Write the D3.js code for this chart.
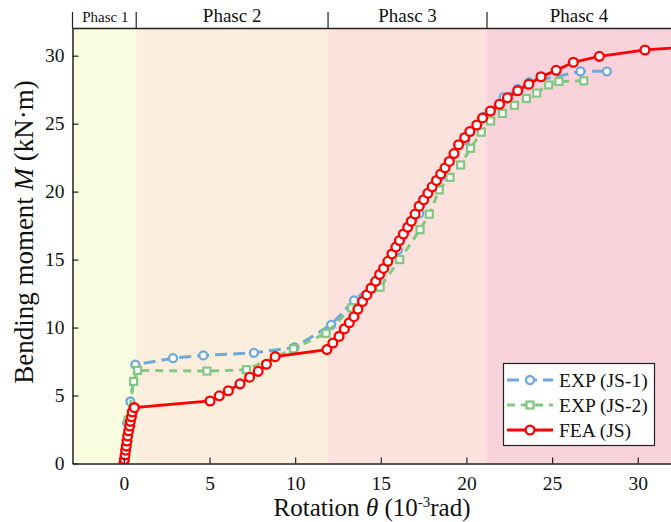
<!DOCTYPE html>
<html lang="en">
<head>
<meta charset="utf-8">
<title>moment rotation</title>
<script src="https://d3js.org/d3.v7.min.js"></script>
<style>
  body{margin:0;background:#fff;font-family:"Liberation Serif","Times New Roman",serif;}
</style>
</head>
<body>
<div id="chart"></div>
<script>
// phases
var phaseNames = ["Phasc 1","Phasc 2","Phasc 3","Phasc 4"]
var phaseEdges = [-3, 0.72, 11.92, 21.2, 32]
var phaseColors = ["#fbfde0","#fbeedc","#fce1dd","#fad2dc"]

// EXP (JS-1)
var exp1Theta = [0, 0.19, 0.38, 0.67, 2.87, 4.64, 7.59, 9.96, 12.1, 13.44, 14.76, 16.0, 17.25, 18.5, 19.92, 21.0, 22.18, 22.99, 23.66, 26.66, 28.2]
var exp1M     = [0, 3.0, 4.56, 7.27, 7.75, 7.95, 8.14, 8.54, 10.2, 12.0, 13.4, 15.7, 18.4, 21.1, 23.77, 25.5, 26.95, 27.55, 28.05, 28.85, 28.85]

// EXP (JS-2)
var exp2Theta = [0, 0.25, 0.57, 0.8, 4.85, 7.15, 9.9, 11.8, 13.3, 14.96, 16.1, 17.29, 17.83, 18.41, 19.04, 19.66, 20.24, 20.87, 21.41, 22.1, 22.8, 23.5, 24.1, 24.8, 25.4, 26.85]
var exp2M     = [0, 3.2, 6.04, 6.85, 6.8, 6.9, 8.44, 9.58, 11.45, 12.97, 15.0, 17.2, 18.34, 20.13, 21.05, 21.96, 23.19, 24.37, 25.2, 25.75, 26.35, 26.85, 27.25, 27.85, 28.1, 28.15]

// FEA (JS)
var feaTheta = [0, 0.03, 0.07, 0.1, 0.14, 0.18, 0.22, 0.28, 0.34, 0.38, 0.44, 0.49, 0.61,
  5.03, 5.57, 6.1, 6.78, 7.34, 7.84, 8.32, 8.83, 11.85,
  12.2, 12.56, 12.87, 13.16, 13.43, 13.66, 13.93, 14.18, 14.43, 14.7, 14.93, 15.16, 15.41, 15.65, 15.88, 16.09, 16.32, 16.57, 16.78, 17.0, 17.24, 17.5,
  17.75, 18.0, 18.25, 18.5, 18.75, 19.0, 19.27, 19.54, 19.9, 20.2, 20.6, 20.94, 21.4, 21.93, 22.39, 22.99, 23.64, 24.35, 25.24, 26.24, 27.76, 30.42, 33.5]
var feaM = [0, 0.3, 0.62, 0.98, 1.28, 1.65, 2.02, 2.41, 2.76, 3.1, 3.44, 3.79, 4.11,
  4.6, 4.98, 5.35, 5.86, 6.35, 6.78, 7.3, 7.86, 8.38,
  8.86, 9.35, 9.9, 10.35, 10.8, 11.35, 11.92, 12.4, 12.9, 13.4, 13.9, 14.35, 14.87, 15.42, 15.92, 16.4, 16.88, 17.38, 17.82, 18.35, 18.93, 19.4,
  19.88, 20.35, 20.82, 21.3, 21.75, 22.22, 22.8, 23.45, 23.98, 24.42, 24.9, 25.42, 25.93, 26.43, 26.9, 27.42, 27.9, 28.45, 28.92, 29.52, 29.95, 30.42, 30.7]

var xTicks = [0, 5, 10, 15, 20, 25, 30]
var yTicks = [0, 5, 10, 15, 20, 25, 30]

var W = 671, H = 522
var mLeft = 72.5, mRight = 672, mTop = 28.5, mBottom = 463.5

var svg = d3.select("#chart").append("svg").attr("width", W).attr("height", H)
var x = d3.scaleLinear().domain([-3, 32]).range([mLeft, mRight])
var y = d3.scaleLinear().domain([0, 32]).range([mBottom, mTop])

svg.append("defs").append("clipPath").attr("id", "clip")
  .append("rect").attr("x", mLeft).attr("y", mTop).attr("width", mRight - mLeft).attr("height", mBottom - mTop)

// phase bands
svg.selectAll("rect.band").data(phaseNames).enter().append("rect")
  .attr("class", "band")
  .attr("x", function(d, i){ return x(phaseEdges[i]) })
  .attr("y", mTop)
  .attr("width", function(d, i){ return x(phaseEdges[i + 1]) - x(phaseEdges[i]) })
  .attr("height", mBottom - mTop)
  .attr("fill", function(d, i){ return phaseColors[i] })

// phase labels + dividers above plot
svg.selectAll("text.phase").data(phaseNames).enter().append("text")
  .attr("class", "phase")
  .attr("x", function(d, i){ return (x(phaseEdges[i]) + Math.min(x(phaseEdges[i + 1]), W)) / 2 + (i == 0 ? 1 : 0) })
  .attr("y", 22)
  .attr("text-anchor", "middle")
  .attr("font-size", function(d, i){ return i == 0 ? 15 : 19 })
  .attr("fill", "#111")
  .text(function(d){ return d })
svg.selectAll("line.pdiv").data(phaseEdges.slice(0, 4)).enter().append("line")
  .attr("class", "pdiv")
  .attr("x1", function(d){ return x(d) }).attr("x2", function(d){ return x(d) })
  .attr("y1", 12).attr("y2", mTop)
  .attr("stroke", "#222").attr("stroke-width", 1.2)
svg.append("line").attr("x1", mLeft).attr("x2", W).attr("y1", mTop).attr("y2", mTop)
  .attr("stroke", "#222").attr("stroke-width", 1.5)

// series
var series = [
  {name: "EXP (JS-1)", t: exp1Theta, m: exp1M, color: "#6fa8dc", dash: "12,6", width: 3, mark: "circle", r: 4},
  {name: "EXP (JS-2)", t: exp2Theta, m: exp2M, color: "#82c882", dash: "8,6", width: 3, mark: "square", r: 3.5},
  {name: "FEA (JS)", t: feaTheta, m: feaM, color: "#ff0000", dash: null, width: 2.8, mark: "circle", r: 4.4}
]
var plot = svg.append("g").attr("clip-path", "url(#clip)")
var line = d3.line().x(function(d){ return x(d[0]) }).y(function(d){ return y(d[1]) })

function drawMark(g, s, px, py){
  if (s.mark == "square") {
    g.append("rect").attr("x", px - s.r).attr("y", py - s.r).attr("width", 2 * s.r).attr("height", 2 * s.r)
      .attr("fill", "#fff").attr("stroke", s.color).attr("stroke-width", 2.2)
  } else {
    g.append("circle").attr("cx", px).attr("cy", py).attr("r", s.r)
      .attr("fill", "#fff").attr("stroke", s.color).attr("stroke-width", 2.3)
  }
}

series.forEach(function(s){
  var pts = d3.zip(s.t, s.m)
  plot.append("path").datum(pts).attr("d", line).attr("fill", "none")
    .attr("stroke", s.color).attr("stroke-width", s.width)
    .attr("stroke-dasharray", s.dash)
  var mg = plot.append("g")
  pts.forEach(function(p){ drawMark(mg, s, x(p[0]), y(p[1])) })
})

// axes (ticks inside)
var xAxis = svg.append("g").attr("transform", "translate(0," + mBottom + ")")
  .call(d3.axisBottom(x).tickValues(xTicks).tickSizeInner(-6).tickSizeOuter(0).tickPadding(13))
var yAxis = svg.append("g").attr("transform", "translate(" + mLeft + ",0)")
  .call(d3.axisLeft(y).tickValues(yTicks).tickSizeInner(-6).tickSizeOuter(0).tickPadding(8))
;[xAxis, yAxis].forEach(function(g){
  g.select(".domain").attr("stroke", "#222").attr("stroke-width", 1.5)
  g.selectAll(".tick line").attr("stroke", "#222").attr("stroke-width", 1.2)
  g.selectAll("text").attr("font-family", "Liberation Serif, serif").attr("font-size", 19.5).attr("fill", "#111")
})

// axis titles
var xt = svg.append("text").attr("x", 372).attr("y", 516).attr("text-anchor", "middle")
  .attr("font-size", 25).attr("fill", "#111")
xt.append("tspan").text("Rotation ")
xt.append("tspan").attr("font-style", "italic").text("θ")
xt.append("tspan").text("  (10")
xt.append("tspan").attr("font-size", 15).attr("dy", -9).text("-3")
xt.append("tspan").attr("dy", 9).text("rad)")

var yt = svg.append("text").attr("transform", "translate(33,232) rotate(-90)").attr("text-anchor", "middle")
  .attr("font-size", 27).attr("fill", "#111")
yt.append("tspan").text("Bending moment ")
yt.append("tspan").attr("font-style", "italic").text("M")
yt.append("tspan").text(" (kN·m)")

// legend
var lg = svg.append("g")
lg.append("rect").attr("x", 503.5).attr("y", 363.5).attr("width", 151).attr("height", 82)
  .attr("fill", "#fff").attr("stroke", "#222").attr("stroke-width", 1.2)
series.forEach(function(s, i){
  var ly = 380 + i * 25
  lg.append("line").attr("x1", 507).attr("x2", 553).attr("y1", ly).attr("y2", ly)
    .attr("stroke", s.color).attr("stroke-width", s.width).attr("stroke-dasharray", s.dash)
  drawMark(lg, s, 530, ly)
  lg.append("text").attr("x", 559).attr("y", ly + 6.5).attr("font-size", 19.5).attr("fill", "#111").text(s.name)
})
</script>
</body>
</html>
